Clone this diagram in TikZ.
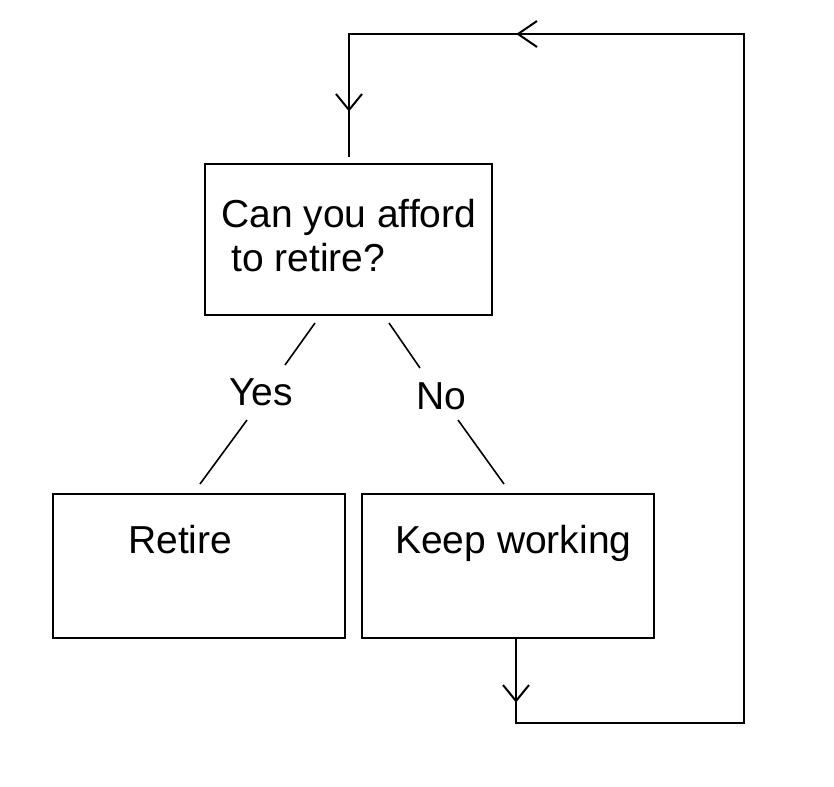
\documentclass[tikz,border=0pt]{standalone}
\usepackage{fontspec}
\setmainfont{Liberation Sans}
\begin{document}
\begin{tikzpicture}[x=1pt,y=-1pt,
  box/.style={draw,line width=2pt,inner sep=0pt},
  txt/.style={font=\fontsize{39}{44}\selectfont,inner sep=0pt,anchor=base west},
  ln/.style={line width=1.6pt},
  chev/.style={line width=2pt}]
\useasboundingbox (0,0) rectangle (834,786);
\node[box,minimum width=287pt,minimum height=151pt] (q) at (348.5,239.5) {};
\node[box,minimum width=292pt,minimum height=144pt] (r) at (199,566) {};
\node[box,minimum width=292pt,minimum height=144pt] (k) at (508,566) {};
\node[txt] (t1) at (221,228) {Can you afford};
\node[txt] (t2) at (231,271) {to retire?};
\node[txt] (t3) at (128,553) {Retire};
\node[txt] (t4) at (395,553) {Keep working};
\node[txt] (yes) at (229,405) {Yes};
\node[txt] (no) at (416,409) {No};
\coordinate (y1) at (315,323); \coordinate (y2) at (285,365);
\coordinate (y3) at (247,420); \coordinate (y4) at (200,484);
\coordinate (n1) at (389,323); \coordinate (n2) at (420,368);
\coordinate (n3) at (458,420); \coordinate (n4) at (504,484);
\draw[ln] (y1) -- (y2) (y3) -- (y4) (n1) -- (n2) (n3) -- (n4);
\coordinate (c1) at (516,723); \coordinate (c2) at (744,723);
\coordinate (c3) at (744,34); \coordinate (c4) at (349,34);
\coordinate (c5) at (349,157);
\draw[chev,line join=miter] (k.south -| c1) -- (c1) -- (c2) -- (c3) -- (c4) -- (c5);
\draw[chev] (503,685) -- (516,701) -- (529,685);
\draw[chev] (336,94) -- (349,110) -- (362,94);
\draw[chev] (537,21) -- (518,34) -- (537,47);
\end{tikzpicture}
\end{document}
